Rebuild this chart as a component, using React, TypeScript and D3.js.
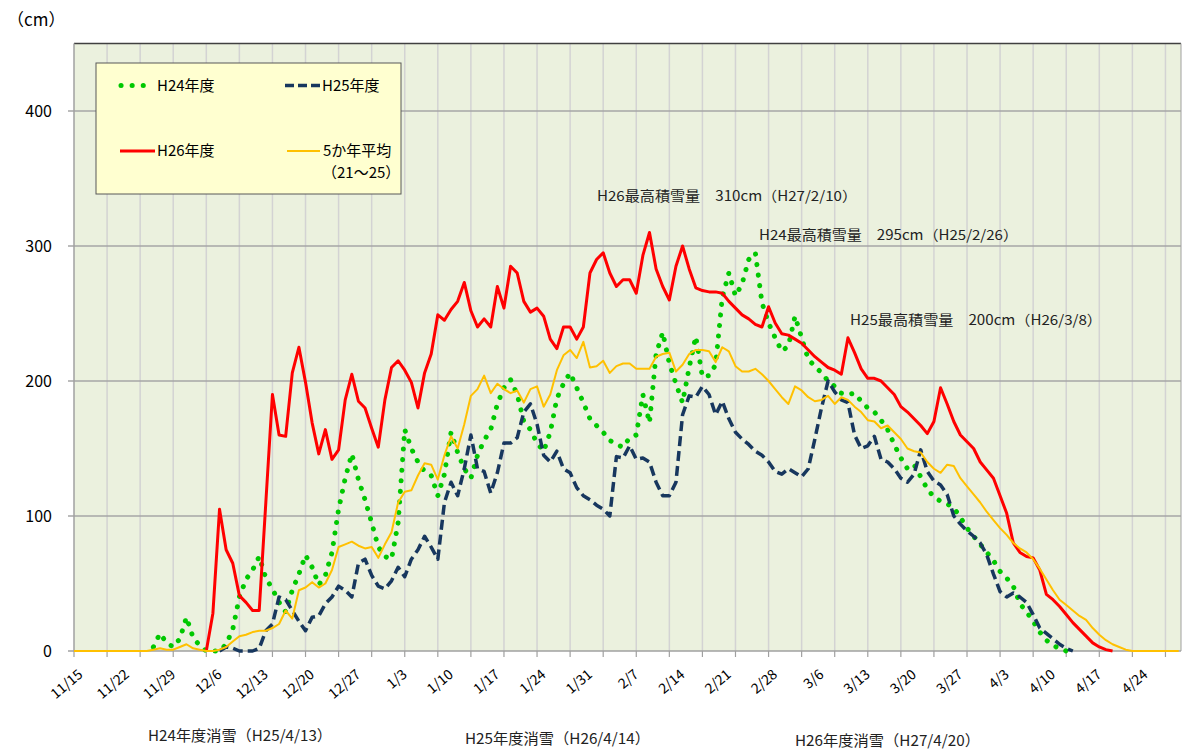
import React from 'react';
import * as d3 from 'd3';

// Category axis: 11/15 .. 4/30 on a leap-year calendar (the sheet has 2/29)
const days = d3
  .timeDay.range(new Date(2011, 10, 15), new Date(2012, 4, 1))
  .map(d3.timeFormat('%-m/%-d'));

const tickLabels = [
  '11/15', '11/22', '11/29', '12/6', '12/13', '12/20', '12/27', '1/3', '1/10', '1/17', '1/24', '1/31',
  '2/7', '2/14', '2/21', '2/28', '3/6', '3/13', '3/20', '3/27', '4/3', '4/10', '4/17', '4/24'
];
const yTicks = [0, 100, 200, 300, 400];

// 5か年平均（21～25）, from 11/15
const avgStart = '11/15';
const avgValues = [
  0, 0, 0, 0, 0, 0, 0, 0, 0, 0, 0, 0, 1, 2, 1, 1, 3, 5, 2, 1,
  0, 0, 1, 3, 7, 11, 12, 14, 15, 15, 17, 20, 30, 24, 45, 47, 51, 47, 50, 60,
  77, 79, 81, 78, 76, 77, 69, 79, 88, 110, 118, 119, 130, 139, 138, 127, 145, 159, 150, 168,
  189, 194, 204, 191, 198, 194, 191, 193, 184, 194, 196, 181, 190, 208, 219, 223, 217, 229, 210, 211,
  215, 206, 211, 213, 213, 209, 209, 209, 218, 220, 221, 207, 212, 220, 223, 223, 222, 214, 225, 222,
  211, 207, 207, 209, 205, 200, 194, 188, 183, 196, 193, 188, 185, 186, 189, 183, 188, 186, 181, 177,
  171, 170, 165, 167, 162, 157, 150, 148, 147, 140, 135, 132, 138, 137, 128, 122, 116, 110, 103, 97,
  91, 86, 80, 76, 73, 68, 61, 53, 45, 38, 34, 30, 26, 23, 17, 12, 8, 5, 3, 1,
  0, 0, 0, 0, 0, 0, 0, 0
];

// H24年度, from 11/27
const h24Start = '11/27';
const h24Values = [
  3, 13, 6, 3, 9, 25, 10, 4, 0, 0, 0, 5, 16, 40, 53, 60, 70, 54, 46, 36,
  29, 45, 57, 71, 62, 49, 56, 73, 105, 128, 146, 127, 112, 95, 77, 70, 68, 95, 164, 150,
  140, 133, 130, 115, 131, 162, 147, 135, 128, 145, 156, 164, 183, 195, 201, 190, 170, 164, 154, 148,
  162, 187, 198, 206, 195, 184, 172, 167, 162, 156, 153, 151, 158, 160, 190, 169, 220, 236, 213, 198,
  184, 210, 233, 203, 204, 212, 262, 280, 263, 272, 290, 295, 258, 243, 232, 222, 226, 248, 232, 216,
  211, 206, 200, 196, 191, 190, 191, 185, 180, 177, 171, 164, 153, 143, 135, 138, 129, 120, 114, 111,
  109, 106, 99, 91, 85, 79, 73, 67, 59, 54, 48, 35, 29, 22, 14, 8, 4, 2, 0
];

// H25年度, from 12/7
const h25Start = '12/7';
const h25Values = [
  0, 3, 2, 0, 0, 0, 2, 15, 20, 40, 38, 30, 22, 15, 25, 26, 35, 40, 48, 45,
  40, 65, 68, 56, 48, 46, 52, 62, 55, 68, 75, 85, 77, 68, 110, 125, 115, 135, 160, 135,
  133, 117, 132, 154, 154, 158, 177, 183, 168, 145, 140, 148, 135, 132, 121, 115, 112, 108, 105, 100,
  144, 143, 152, 142, 143, 140, 125, 115, 115, 125, 175, 189, 188, 196, 190, 175, 185, 172, 162, 157,
  153, 148, 145, 140, 133, 131, 135, 132, 129, 135, 157, 180, 200, 192, 186, 184, 160, 150, 152, 159,
  142, 140, 135, 128, 125, 131, 149, 133, 126, 123, 116, 100, 94, 89, 85, 80, 71, 57, 44, 40,
  43, 40, 36, 27, 17, 13, 9, 5, 2, 0
];

// H26年度, from 12/5
const h26Start = '12/5';
const h26Values = [
  0, 28, 105, 75, 65, 41, 36, 30, 30, 110, 190, 160, 159, 206, 225, 199, 169, 146, 164, 142,
  149, 186, 205, 185, 180, 165, 151, 186, 210, 215, 208, 199, 180, 206, 220, 249, 245, 253, 259, 273,
  252, 240, 246, 240, 270, 254, 285, 280, 259, 251, 254, 248, 231, 224, 240, 240, 231, 240, 280, 290,
  295, 280, 270, 275, 275, 265, 293, 310, 283, 270, 260, 285, 300, 283, 269, 267, 266, 266, 265, 259,
  254, 249, 246, 242, 240, 255, 243, 235, 234, 231, 228, 223, 218, 214, 210, 208, 205, 232, 221, 209,
  202, 202, 200, 195, 190, 181, 177, 172, 167, 161, 170, 195, 183, 170, 160, 155, 150, 140, 134, 128,
  115, 102, 80, 73, 70, 69, 60, 42, 38, 33, 27, 21, 16, 11, 6, 3, 1, 0
];

const series = [
  { key: 'H24年度', start: h24Start, values: h24Values, color: '#00C800', width: 5, dash: '0.1 10.5', cap: 'round' },
  { key: 'H25年度', start: h25Start, values: h25Values, color: '#17375E', width: 3.5, dash: '10 5', cap: 'butt' },
  { key: 'H26年度', start: h26Start, values: h26Values, color: '#FF0000', width: 3, dash: 'none', cap: 'butt' },
  { key: '5か年平均', start: avgStart, values: avgValues, color: '#FFC000', width: 2, dash: 'none', cap: 'butt' }
];

const notes = [
  { text: 'H26最高積雪量　310cm（H27/2/10）', x: 597, y: 201, w: 260 },
  { text: 'H24最高積雪量　295cm（H25/2/26）', x: 759, y: 240, w: 259 },
  { text: 'H25最高積雪量　200cm（H26/3/8）', x: 850, y: 325, w: 252 }
];
const meltNotes = [
  { text: 'H24年度消雪（H25/4/13）', x: 148, y: 741, w: 184 },
  { text: 'H25年度消雪（H26/4/14）', x: 465, y: 744, w: 185 },
  { text: 'H26年度消雪（H27/4/20）', x: 795, y: 746, w: 185 }
];

const W = 1184;
const H = 751;
const left = 74;
const right = 1181;
const top = 43.5;
const bottom = 651;
const font = '"Noto Sans CJK JP", "Noto Sans", sans-serif';

const App: React.FC = () => {
  const x = d3.scaleLinear().domain([0, 167.35]).range([left, right]);
  const y = d3.scaleLinear().domain([0, 450]).range([bottom, top]);

  const gridDays = d3.range(5, days.length, 5);

  const pathFor = (s: typeof series[number]) => {
    const offset = days.indexOf(s.start);
    const line = d3
      .line<number>()
      .x((_, i) => x(offset + i))
      .y(v => y(v));
    return line(s.values) || '';
  };

  return (
    <svg width={W} height={H} style={{ position: 'absolute', left: 0, top: 0, background: '#fff' }} fontFamily={font}>
      {/* plot area */}
      <rect x={left} y={top} width={right - left} height={bottom - top} fill="#EBF1DE" />
      {gridDays.map(d => (
        <line key={'v' + d} x1={x(d)} x2={x(d)} y1={top} y2={bottom} stroke="#D3D3D3" strokeWidth={1.5} />
      ))}
      {yTicks.slice(1).map(t => (
        <line key={'h' + t} x1={left - 6} x2={right} y1={y(t)} y2={y(t)} stroke="#A6A6A6" strokeWidth={1.3} />
      ))}
      <line x1={left} x2={right} y1={top} y2={top} stroke="#404040" strokeWidth={1.5} />
      <line x1={right} x2={right} y1={top} y2={bottom} stroke="#A0A0A0" strokeWidth={1} />
      <line x1={left} x2={left} y1={top} y2={bottom + 0.5} stroke="#A0A0A0" strokeWidth={1.5} />
      <line x1={left - 6} x2={right} y1={bottom} y2={bottom} stroke="#A0A0A0" strokeWidth={1.5} />
      {[0, ...gridDays].map(d => (
        <line key={'t' + d} x1={x(d)} x2={x(d)} y1={bottom} y2={bottom + 6} stroke="#A0A0A0" strokeWidth={1.2} />
      ))}

      {/* y labels */}
      {yTicks.map(t => (
        <text key={'yl' + t} x={52} y={y(t)} dy="0.35em" textAnchor="end" fontSize={16} fill="#000">
          {t}
        </text>
      ))}
      <text x={7} y={26} fontSize={17} fill="#000">（cm）</text>

      {/* x labels */}
      {tickLabels.map(lbl => {
        const d = days.indexOf(lbl);
        return (
          <text
            key={'xl' + lbl}
            transform={`translate(${x(d) + 3},${668}) rotate(-40)`}
            dy="0.75em"
            textAnchor="end"
            fontSize={14}
            fill="#000"
          >
            {lbl}
          </text>
        );
      })}

      {/* series */}
      {series.map(s => (
        <path
          key={s.key}
          d={pathFor(s)}
          fill="none"
          stroke={s.color}
          strokeWidth={s.width}
          strokeDasharray={s.dash}
          strokeLinecap={s.cap as any}
          strokeLinejoin="round"
        />
      ))}

      {/* legend */}
      <rect x={96} y={63} width={305} height={131} fill="#FFFFD0" stroke="#595959" strokeWidth={1} />
      <line x1={121} x2={146} y1={85.5} y2={85.5} stroke="#00C800" strokeWidth={5} strokeDasharray="0.1 11" strokeLinecap="round" />
      <text x={157} y={85.5} dy="0.36em" fontSize={15}>H24年度</text>
      <line x1={285} x2={320} y1={85.5} y2={85.5} stroke="#17375E" strokeWidth={3.5} strokeDasharray="9 4" />
      <text x={322} y={85.5} dy="0.36em" fontSize={15}>H25年度</text>
      <line x1={120} x2={155} y1={151} y2={151} stroke="#FF0000" strokeWidth={3} />
      <text x={157} y={151} dy="0.36em" fontSize={15}>H26年度</text>
      <line x1={287} x2={320} y1={151} y2={151} stroke="#FFC000" strokeWidth={2} />
      <text x={323} y={151} dy="0.36em" fontSize={15}>5か年平均</text>
      <text x={322} y={173} dy="0.36em" fontSize={15}>（21～25）</text>

      {/* annotations */}
      {notes.map(n => (
        <text key={n.text} x={n.x} y={n.y} fontSize={14} fill="#222" textLength={n.w} lengthAdjust="spacingAndGlyphs">
          {n.text}
        </text>
      ))}
      {meltNotes.map(n => (
        <text key={n.text} x={n.x} y={n.y} fontSize={15} fill="#222" textLength={n.w} lengthAdjust="spacingAndGlyphs">
          {n.text}
        </text>
      ))}
    </svg>
  );
};

export default App;
